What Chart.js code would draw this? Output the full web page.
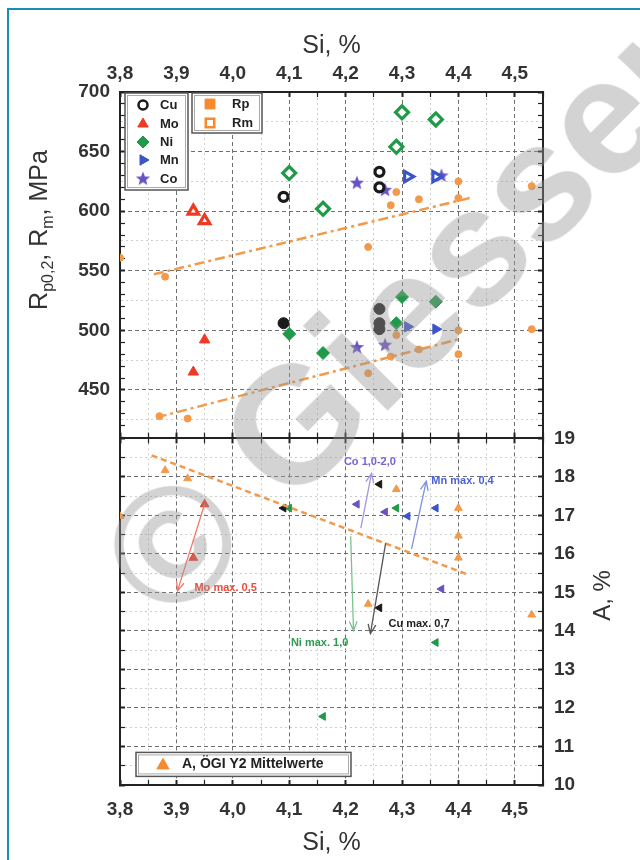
<!DOCTYPE html>
<html lang="de">
<head>
<meta charset="UTF-8">
<title>Rp0,2, Rm und A über Si</title>
<script src="https://cdn.jsdelivr.net/npm/chart.js"></script>
<style>
  html, body { margin: 0; padding: 0; background: #fff; }
  #page { position: relative; width: 640px; height: 860px; overflow: hidden; background: #fff; }
  #frame { position: absolute; left: 7px; top: 8px; right: -10px; bottom: -10px;
           border-left: 2px solid #1b8db5; border-top: 2px solid #1b8db5; }
  #topChart { position: absolute; left: 0; top: 0; }
  #bottomChart { position: absolute; left: 0; top: 411px; }
  #mark { position: absolute; left: 122px; top: 497px; height: 165px; line-height: 165px;
          font: bold 165px "Liberation Sans", Arial, sans-serif; color: rgba(150,150,150,0.42);
          white-space: nowrap; transform-origin: 0 50%; transform: rotate(-45deg); pointer-events: none; }
</style>
</head>
<body>
<div id="page">
  <div id="frame"></div>
  <canvas id="topChart" width="640" height="464"></canvas>
  <canvas id="bottomChart" width="640" height="449"></canvas>
  <div id="mark">© Giesserei</div>
</div>

<script>
// ---- data: top panel (Rp0,2 filled, Rm open), MPa ----
const siCuRm = [4.09, 4.26, 4.26];          const cuRm = [612, 633, 620];
const siCuRp = [4.09, 4.26, 4.26, 4.26];    const cuRp = [506, 518, 506, 501];
const siMoRm = [3.93, 3.95];                const moRm = [600, 592];
const siMoRp = [3.95, 3.93];                const moRp = [492, 465];
const siNiRm = [4.10, 4.16, 4.29, 4.30, 4.36]; const niRm = [632, 602, 654, 683, 677];
const siNiRp = [4.10, 4.16, 4.29, 4.30, 4.36]; const niRp = [497, 481, 506, 528, 524];
const siMnRm = [4.31, 4.36];                const mnRm = [629, 629];
const siMnRp = [4.31, 4.36];                const mnRp = [503, 501];
const siCoRm = [4.22, 4.27, 4.37];          const coRm = [624, 618, 630];
const siCoRp = [4.22, 4.27];                const coRp = [486, 488];
const siRefRm = [3.80, 3.88, 4.24, 4.28, 4.29, 4.33, 4.40, 4.40, 4.53];
const refRm   = [561, 545, 570, 605, 616, 610, 625, 611, 621];
const siRefRp = [3.87, 3.92, 4.24, 4.28, 4.29, 4.33, 4.40, 4.40, 4.53];
const refRp   = [428, 426, 464, 478, 496, 484, 500, 480, 501];
const siFitRm = [3.86, 4.42];   const fitRm = [547, 611];
const siFitRp = [3.865, 4.405]; const fitRp = [427, 493];

// ---- data: bottom panel, A in % ----
const siMoA = [3.95, 3.93];                 const moA = [17.29, 15.9];
const siCuA = [4.09, 4.26, 4.26];           const cuA = [17.19, 17.81, 14.6];
const siNiA = [4.10, 4.29, 4.36, 4.16];     const niA = [17.19, 17.19, 13.7, 11.78];
const siMnA = [4.31, 4.36];                 const mnA = [16.98, 17.19];
const siCoA = [4.22, 4.27, 4.37];           const coA = [17.29, 17.09, 15.09];
const siRefA = [3.80, 3.88, 3.92, 4.24, 4.29, 4.40, 4.40, 4.40, 4.53];
const refA   = [16.98, 18.17, 17.96, 14.7, 17.68, 17.19, 16.47, 15.9, 14.42];
const siFitA = [3.856, 4.414]; const fitA = [18.56, 15.48];

// notes with arrows in the bottom panel
const noteText = ['Mo max. 0,5', 'Co 1,0-2,0', 'Mn max. 0,4', 'Ni max. 1,0', 'Cu max. 0,7'];
const noteSi   = [3.932, 4.197, 4.352, 4.103, 4.276];
const noteA    = [15.12, 18.40, 17.89, 13.70, 14.19];
const arrowFromSi = [3.95, 4.227, 4.317, 4.209, 4.271];
const arrowFromA  = [17.29, 16.67, 16.13, 16.46, 16.28];
const arrowToSi   = [3.902, 4.246, 4.343, 4.214, 4.244];
const arrowToA    = [15.04, 18.09, 17.89, 14.01, 13.93];
const noteColor  = ['#f04a38', '#7564d2', '#4a62d6', '#2e9a50', '#222222'];
const arrowColor = ['#f27a6a', '#a596e2', '#7f90e2', '#78c48c', '#555555'];

const FONT = '"Liberation Sans", Arial, sans-serif';
const BLACK = '#1a1a1a', RED = '#ee3a24', GREEN = '#1f9a48', BLUE = '#3b55c8', PURPLE = '#6a52c4', ORANGE = '#f39a4a';

function pts(xs, ys) { return xs.map((x, i) => ({ x: x, y: ys[i] })); }
function mult(v, step) { const q = v / step; return Math.abs(q - Math.round(q)) < 1e-6; }

function starImage(color) {
  const c = document.createElement('canvas');
  c.width = 16; c.height = 16;
  const g = c.getContext('2d');
  g.beginPath();
  for (let i = 0; i < 10; i++) {
    const r = i % 2 ? 3.2 : 7.5;
    const a = -Math.PI / 2 + i * Math.PI / 5;
    g.lineTo(8 + r * Math.cos(a), 8.5 + r * Math.sin(a));
  }
  g.closePath();
  g.fillStyle = color;
  g.fill();
  return c;
}
const star = starImage(PURPLE);

function marks(xs, ys, style, color, open, r, rot, xId, yId) {
  return {
    data: pts(xs, ys), xAxisID: xId, yAxisID: yId,
    pointStyle: style, rotation: rot || 0, pointRadius: r,
    backgroundColor: open ? '#ffffff' : color, borderColor: color,
    borderWidth: open ? 3.2 : 1, showLine: false
  };
}
function fitLine(xs, ys, dash, xId, yId) {
  return {
    data: pts(xs, ys), xAxisID: xId, yAxisID: yId, showLine: true, pointRadius: 0,
    borderColor: ORANGE, borderWidth: 2.5, borderDash: dash, fill: false
  };
}

function gridOpts(major, minor, tickStep) {
  return {
    color: c => !c.tick ? '#707070' : mult(c.tick.value, major) ? '#6f6f6f' : (mult(c.tick.value, minor) ? '#cdcdcd' : 'rgba(0,0,0,0)'),
    lineWidth: 1,
    tickLength: -5,
    tickColor: c => (c.tick && mult(c.tick.value, tickStep)) ? '#222' : 'rgba(0,0,0,0)',
    tickWidth: c => (c.tick && mult(c.tick.value, major)) ? 2 : 1.2
  };
}
function borderOpts(major) {
  return { display: true, color: '#222', width: 2,
           dash: c => (c.tick && mult(c.tick.value, major)) ? [4, 3] : [2, 3] };
}
function sideAxis(pos, min, max, step, major, minor, tickStep, size) {
  const g = gridOpts(major, minor, tickStep);
  g.drawOnChartArea = false;
  return {
    type: 'linear', position: pos, min: min, max: max,
    afterFit: s => { if (pos === 'left' || pos === 'right') s.width = size; else s.height = size; },
    ticks: { display: false, stepSize: step, autoSkip: false },
    grid: g, border: { display: true, color: '#222', width: 2 }
  };
}
const tickFont = { family: FONT, size: 19, weight: 'bold' };
const siLabel = v => mult(v, 0.1) ? v.toFixed(1).replace('.', ',') : '';

function drawSymbol(ctx, style, x, y, r, color, open, rot) {
  ctx.save();
  ctx.fillStyle = open ? '#fff' : color;
  ctx.strokeStyle = color;
  ctx.lineWidth = open ? 2.5 : 1;
  if (style === 'star') {
    ctx.drawImage(star, x - 8, y - 8.5);
  } else {
    Chart.helpers.drawPoint(ctx, { pointStyle: style, radius: r, rotation: rot || 0, borderWidth: ctx.lineWidth }, x, y);
  }
  ctx.restore();
}
function legendBox(ctx, x, y, w, h) {
  ctx.save();
  ctx.fillStyle = '#fff';
  ctx.fillRect(x, y, w, h);
  ctx.strokeStyle = '#555';
  ctx.lineWidth = 1.5;
  ctx.strokeRect(x, y, w, h);
  ctx.strokeStyle = '#aaa';
  ctx.lineWidth = 1;
  ctx.strokeRect(x + 2.5, y + 2.5, w - 5, h - 5);
  ctx.restore();
}

const topExtras = {
  id: 'topExtras',
  afterDraw(chart) {
    const ctx = chart.ctx;
    // legends
    legendBox(ctx, 125, 93, 63, 97);
    legendBox(ctx, 192, 93, 70, 40);
    const rows = [['Cu', 'circle', BLACK, true, 4.5, 0], ['Mo', 'triangle', RED, false, 6, 0],
                  ['Ni', 'rectRot', GREEN, false, 6, 0], ['Mn', 'triangle', BLUE, false, 6, 90],
                  ['Co', 'star', PURPLE, false, 6, 0]];
    const rowY = [105, 124, 142, 160, 179];
    ctx.save();
    ctx.font = 'bold 13px ' + FONT;
    ctx.textBaseline = 'middle';
    rows.forEach((r, i) => {
      drawSymbol(ctx, r[1], 143, rowY[i], r[4], r[2], r[3], r[5]);
      ctx.fillStyle = '#222';
      ctx.fillText(r[0], 160, rowY[i]);
    });
    drawSymbol(ctx, 'rect', 210, 104, 7, '#f58a2e', false, 0);
    drawSymbol(ctx, 'rect', 210, 123, 6, '#f58a2e', true, 0);
    ctx.fillStyle = '#222';
    ctx.fillText('Rp', 232, 104);
    ctx.fillText('Rm', 232, 123);
    ctx.restore();

    // left axis title with subscripts
    const parts = [['R', 25, 0], ['p0,2', 16, 6], [', R', 25, 0], ['m', 16, 6], [', MPa', 25, 0]];
    ctx.save();
    ctx.fillStyle = '#333';
    ctx.textBaseline = 'alphabetic';
    let total = 0;
    parts.forEach(p => { ctx.font = p[1] + 'px ' + FONT; total += ctx.measureText(p[0]).width; });
    ctx.translate(47, 230);
    ctx.rotate(-Math.PI / 2);
    let x = -total / 2;
    parts.forEach(p => {
      ctx.font = p[1] + 'px ' + FONT;
      ctx.fillText(p[0], x, p[2]);
      x += ctx.measureText(p[0]).width;
    });
    ctx.restore();
  }
};

const bottomExtras = {
  id: 'bottomExtras',
  afterDatasetsDraw(chart) {
    const ctx = chart.ctx, sx = chart.scales.x, sy = chart.scales.yA;
    ctx.save();
    noteText.forEach((t, i) => {
      const x1 = sx.getPixelForValue(arrowFromSi[i]), y1 = sy.getPixelForValue(arrowFromA[i]);
      const x2 = sx.getPixelForValue(arrowToSi[i]), y2 = sy.getPixelForValue(arrowToA[i]);
      ctx.strokeStyle = arrowColor[i];
      ctx.lineWidth = 1.3;
      ctx.beginPath();
      ctx.moveTo(x1, y1);
      ctx.lineTo(x2, y2);
      const a = Math.atan2(y2 - y1, x2 - x1);
      ctx.moveTo(x2 - 10 * Math.cos(a - 0.4), y2 - 10 * Math.sin(a - 0.4));
      ctx.lineTo(x2, y2);
      ctx.lineTo(x2 - 10 * Math.cos(a + 0.4), y2 - 10 * Math.sin(a + 0.4));
      ctx.stroke();
      ctx.fillStyle = noteColor[i];
      ctx.font = 'bold 11px ' + FONT;
      ctx.textBaseline = 'middle';
      ctx.fillText(t, sx.getPixelForValue(noteSi[i]), sy.getPixelForValue(noteA[i]));
    });
    ctx.restore();
  },
  afterDraw(chart) {
    const ctx = chart.ctx, top = chart.chartArea.top;
    legendBox(ctx, 136, top + 314, 215, 24);
    drawSymbol(ctx, 'triangle', 163, top + 327, 7, '#f58a2e', false, 0);
    ctx.save();
    ctx.fillStyle = '#222';
    ctx.font = 'bold 14px ' + FONT;
    ctx.textBaseline = 'middle';
    ctx.fillText('A, ÖGI Y2 Mittelwerte', 182, top + 326);
    // right axis title, reading upwards
    ctx.font = '24px ' + FONT;
    ctx.translate(603, top + 157);
    ctx.rotate(-Math.PI / 2);
    ctx.textAlign = 'center';
    ctx.fillStyle = '#333';
    ctx.fillText('A, %', 0, 0);
    ctx.restore();
  }
};

const common = {
  responsive: false,
  animation: false,
  layout: { padding: 0 },
  plugins: { legend: { display: false }, tooltip: { enabled: false } }
};

new Chart(document.getElementById('topChart'), {
  type: 'scatter',
  data: {
    datasets: [
      fitLine(siFitRm, fitRm, [10, 4, 3, 4], 'x', 'y'),
      fitLine(siFitRp, fitRp, [10, 4, 3, 4], 'x', 'y'),
      marks(siRefRm, refRm, 'circle', ORANGE, false, 3.5, 0, 'x', 'y'),
      marks(siRefRp, refRp, 'circle', ORANGE, false, 3.5, 0, 'x', 'y'),
      marks(siCuRm, cuRm, 'circle', BLACK, true, 4.5, 0, 'x', 'y'),
      marks(siCuRp, cuRp, 'circle', BLACK, false, 5.5, 0, 'x', 'y'),
      marks(siMoRm, moRm, 'triangle', RED, true, 6, 0, 'x', 'y'),
      marks(siMoRp, moRp, 'triangle', RED, false, 6, 0, 'x', 'y'),
      marks(siNiRm, niRm, 'rectRot', GREEN, true, 6.5, 0, 'x', 'y'),
      marks(siNiRp, niRp, 'rectRot', GREEN, false, 6.5, 0, 'x', 'y'),
      marks(siMnRm, mnRm, 'triangle', BLUE, true, 6, 90, 'x', 'y'),
      marks(siMnRp, mnRp, 'triangle', BLUE, false, 6, 90, 'x', 'y'),
      marks(siCoRm, coRm, star, PURPLE, false, 6, 0, 'x', 'y'),
      marks(siCoRp, coRp, star, PURPLE, false, 6, 0, 'x', 'y')
    ]
  },
  options: Object.assign({}, common, {
    scales: {
      x: {
        type: 'linear', position: 'top', min: 3.8, max: 4.55,
        afterFit: s => { s.height = 92; },
        ticks: { stepSize: 0.05, autoSkip: false, maxRotation: 0, padding: 12, color: '#333', font: tickFont, callback: siLabel },
        grid: gridOpts(0.1, 0.05, 0.05), border: borderOpts(0.1),
        title: { display: true, text: 'Si, %', color: '#333', font: { family: FONT, size: 25 }, padding: { top: 31, bottom: 0 } }
      },
      x2: sideAxis('bottom', 3.8, 4.55, 0.05, 0.1, 0.05, 0.05, 2),
      y: {
        type: 'linear', position: 'left', min: 410, max: 700,
        afterFit: s => { s.width = 120; },
        ticks: { stepSize: 5, autoSkip: false, padding: 15, color: '#333', font: tickFont,
                 callback: v => (v % 50 === 0 && v >= 450) ? v : '' },
        grid: gridOpts(50, 25, 10), border: borderOpts(50)
      },
      y2: sideAxis('right', 410, 700, 5, 50, 25, 10, 97)
    }
  }),
  plugins: [topExtras]
});

new Chart(document.getElementById('bottomChart'), {
  type: 'scatter',
  data: {
    datasets: [
      fitLine(siFitA, fitA, [6, 4], 'x', 'yA'),
      marks(siRefA, refA, 'triangle', ORANGE, false, 4.5, 0, 'x', 'yA'),
      marks(siMoA, moA, 'triangle', RED, false, 5, 0, 'x', 'yA'),
      marks(siCuA, cuA, 'triangle', BLACK, false, 4.5, -90, 'x', 'yA'),
      marks(siNiA, niA, 'triangle', GREEN, false, 4.5, -90, 'x', 'yA'),
      marks(siMnA, mnA, 'triangle', BLUE, false, 4.5, -90, 'x', 'yA'),
      marks(siCoA, coA, 'triangle', PURPLE, false, 4.5, -90, 'x', 'yA')
    ]
  },
  options: Object.assign({}, common, {
    scales: {
      x: {
        type: 'linear', position: 'bottom', min: 3.8, max: 4.55,
        afterFit: s => { s.height = 75; },
        ticks: { stepSize: 0.05, autoSkip: false, maxRotation: 0, padding: 18, color: '#333', font: tickFont, callback: siLabel },
        grid: gridOpts(0.1, 0.05, 0.05), border: borderOpts(0.1),
        title: { display: true, text: 'Si, %', color: '#333', font: { family: FONT, size: 25 }, padding: { top: 0, bottom: 2 } }
      },
      x2: sideAxis('top', 3.8, 4.55, 0.05, 0.1, 0.05, 0.05, 2),
      yA: {
        type: 'linear', position: 'right', min: 10, max: 19,
        afterFit: s => { s.width = 97; },
        ticks: { stepSize: 0.5, autoSkip: false, padding: 16, color: '#333', font: tickFont,
                 callback: v => mult(v, 1) ? Math.round(v) : '' },
        grid: gridOpts(1, 0.5, 0.5), border: borderOpts(1)
      },
      yL: sideAxis('left', 10, 19, 0.5, 1, 0.5, 0.5, 120)
    }
  }),
  plugins: [bottomExtras]
});
</script>
</body>
</html>
